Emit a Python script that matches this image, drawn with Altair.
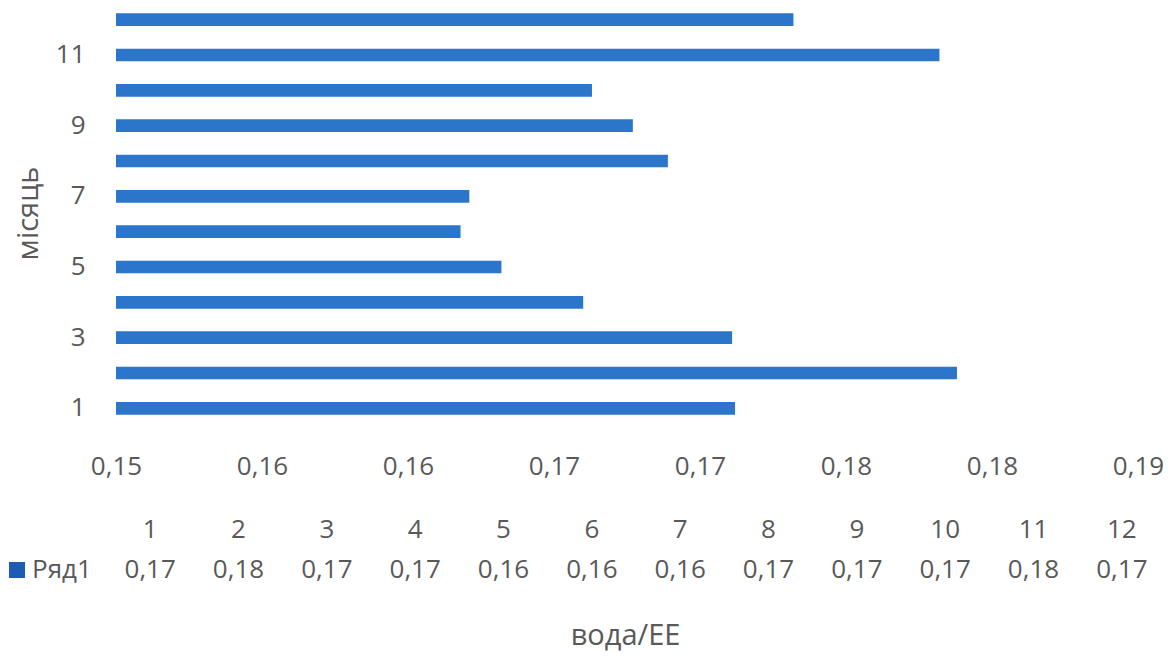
import altair as alt
import pandas as pd

# Monthly water / electricity ratio
months = [1, 2, 3, 4, 5, 6, 7, 8, 9, 10, 11, 12]
ratio = [0.1712, 0.1788, 0.1711, 0.1660, 0.1632, 0.1618,
         0.1621, 0.1689, 0.1677, 0.1663, 0.1782, 0.1732]
series_name = "Ряд1"
x_ticks = [0.15, 0.155, 0.16, 0.165, 0.17, 0.175, 0.18, 0.185]
y_labels = [1, 3, 5, 7, 9, 11]

FONT = "Open Sans"
GREY = "#595959"
BLUE = "#2b75ca"
KEY_BLUE = "#1d5cb4"
LABEL_SIZE = 26
TITLE_SIZE = 29

df = pd.DataFrame({"month": months, "ratio": ratio})
comma2 = "replace(format(round({v}*100+0.000001)/100, '.2f'), '.', ',')"

bars = alt.Chart(df).mark_bar(color=BLUE, clip=True).encode(
    x=alt.X(
        "ratio:Q",
        scale=alt.Scale(domain=[0.15, 0.185], zero=False, nice=False),
        axis=alt.Axis(
            values=x_ticks,
            labelExpr=comma2.format(v="datum.value"),
            grid=False, domain=False, ticks=False,
            labelFlush=False, labelOverlap=False,
            labelPadding=40, labelBaseline="middle",
            labelFontSize=LABEL_SIZE, labelColor=GREY, labelFont=FONT,
            title="вода/ЕЕ", titleFontSize=TITLE_SIZE, titleColor=GREY,
            titleFont=FONT, titleFontWeight="normal",
            titleX=509, titleY=209, titleBaseline="middle",
        ),
    ),
    y=alt.Y(
        "month:O",
        sort="descending",
        scale=alt.Scale(paddingInner=0.64, paddingOuter=0.32),
        axis=alt.Axis(
            values=y_labels, domain=False, ticks=False, grid=False,
            labelPadding=31, labelFontSize=LABEL_SIZE, labelColor=GREY,
            labelFont=FONT, labelAngle=0,
            title="місяць", titleFontSize=TITLE_SIZE, titleColor=GREY,
            titleFont=FONT, titleFontWeight="normal",
            titleX=-88, titleY=211, titleAngle=-90, titleBaseline="middle",
        ),
    ),
)

# Data table under the axis: month header row and rounded values row
table_x = alt.X(
    "month:O",
    axis=None,
    scale=alt.Scale(type="point", range=[-10, 1050], padding=0.5),
)
header = alt.Chart(df).mark_text(
    fontSize=LABEL_SIZE, font=FONT, color=GREY, baseline="middle"
).encode(x=table_x, y=alt.value(528), text="month:O")

values_row = alt.Chart(df).transform_calculate(
    label=comma2.format(v="datum.ratio")
).mark_text(
    fontSize=LABEL_SIZE, font=FONT, color=GREY, baseline="middle"
).encode(x=table_x, y=alt.value(568), text="label:N")

key_df = pd.DataFrame({"name": [series_name]})
key_square = alt.Chart(key_df).mark_square(
    color=KEY_BLUE, size=256, opacity=1
).encode(x=alt.value(-99), y=alt.value(568))
key_text = alt.Chart(key_df).mark_text(
    fontSize=LABEL_SIZE, font=FONT, color=GREY, align="left", baseline="middle"
).encode(x=alt.value(-84), y=alt.value(568), text="name:N")

chart = (
    alt.layer(bars, header, values_row, key_square, key_text)
    .resolve_scale(x="independent")
    .properties(
        width=1022,
        height=424,
        padding={"left": 116, "top": 2, "right": 38, "bottom": 238},
        autosize=alt.AutoSizeParams(type="none"),
        background="white",
    )
    .configure_view(stroke=None)
)

chart.save("out.html", embed_options={"renderer": "svg", "actions": False})
